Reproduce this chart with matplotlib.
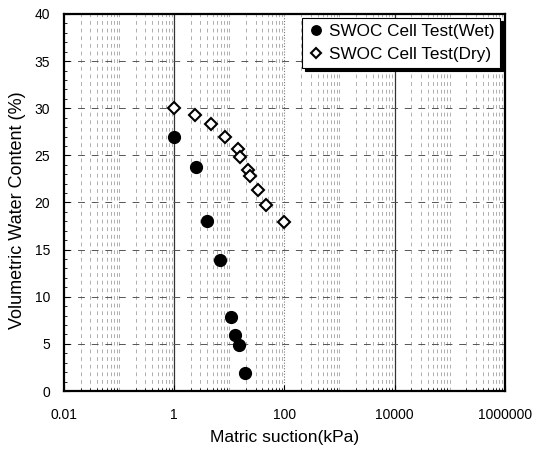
import numpy as np
import matplotlib
matplotlib.use("Agg")
import matplotlib.pyplot as plt
from matplotlib.ticker import LogLocator, NullFormatter, MultipleLocator

plt.rcParams["font.family"] = ["Liberation Sans", "DejaVu Sans"]

# wetting branch
wet_suction = [1.0, 2.45, 4.0, 6.8, 10.8, 12.9, 15.2, 19.6]
wet_theta = [26.9, 23.8, 18.0, 13.9, 7.9, 5.9, 4.9, 1.9]

# drying branch
dry_suction = [1.0, 2.4, 4.7, 8.2, 14.6, 15.7, 21.6, 23.4, 33.7, 46.0, 97.0]
dry_theta = [30.0, 29.3, 28.3, 26.9, 25.7, 24.8, 23.5, 22.8, 21.3, 19.7, 17.9]

x_ticks = [0.01, 1, 100, 10000, 1000000]
x_tick_labels = ["0.01", "1", "100", "10000", "1000000"]

fig = plt.figure(figsize=(5.33, 4.51), dpi=100)
ax = fig.add_axes([0.120, 0.133, 0.827, 0.836])

ax.set_xscale("log")
ax.set_xlim(0.01, 1e6)
ax.set_ylim(0, 40)

# grid: dashed minor verticals, dashed horizontals every 5
ax.xaxis.set_minor_locator(LogLocator(base=10, subs=np.arange(2, 10), numticks=100))
ax.xaxis.set_minor_formatter(NullFormatter())
ax.grid(True, which="minor", axis="x", color="#999999", linestyle=(0, (5, 5)), linewidth=0.55)
ax.yaxis.set_major_locator(MultipleLocator(5))
ax.yaxis.set_minor_locator(MultipleLocator(1))
ax.grid(True, which="major", axis="y", color="#555555", linestyle=(0, (7, 7)), linewidth=0.7)

# decade lines
for d in [0.1, 10, 1000, 100000]:
    ax.axvline(d, color="#999999", linestyle=(0, (5, 5)), linewidth=0.55, zorder=0.5)
ax.axvline(1, color="#333333", linewidth=0.9, zorder=0.5)
ax.axvline(10000, color="#333333", linewidth=0.9, zorder=0.5)
ax.axvline(100, color="#777777", linestyle=(0, (1, 1.5)), linewidth=0.8, zorder=0.5)

ax.plot(wet_suction, wet_theta, "o", color="black", markersize=8.5,
        linestyle="none", label="SWOC Cell Test(Wet)", zorder=3)
ax.plot(dry_suction, dry_theta, "D", markerfacecolor="white", markeredgecolor="black",
        markeredgewidth=1.5, markersize=6.5, linestyle="none",
        label="SWOC Cell Test(Dry)", zorder=4)

ax.set_xticks(x_ticks)
ax.set_xticklabels(x_tick_labels)
ax.tick_params(axis="both", which="both", direction="in", labelsize=10)
ax.tick_params(axis="x", which="major", pad=12, length=4)
ax.tick_params(axis="y", which="major", pad=10, length=4)
ax.tick_params(which="minor", length=2)

for s in ax.spines.values():
    s.set_linewidth(1.6)

ax.set_xlabel("Matric suction(kPa)", fontsize=12.5, labelpad=6)
ax.set_ylabel("Volumetric Water Content (%)", fontsize=13)
ax.yaxis.set_label_coords(-0.085, 0.48)

leg = ax.legend(loc="upper right", fontsize=12.3, frameon=True, fancybox=False,
                shadow={"color": "black", "alpha": 1}, handletextpad=0.3,
                borderpad=0.35, labelspacing=0.45, handlelength=0.9,
                borderaxespad=0.25, framealpha=1, markerscale=0.8)
leg.get_frame().set_edgecolor("black")
leg.get_frame().set_linewidth(0.8)

plt.savefig("out.png", dpi=100)
plt.close()
